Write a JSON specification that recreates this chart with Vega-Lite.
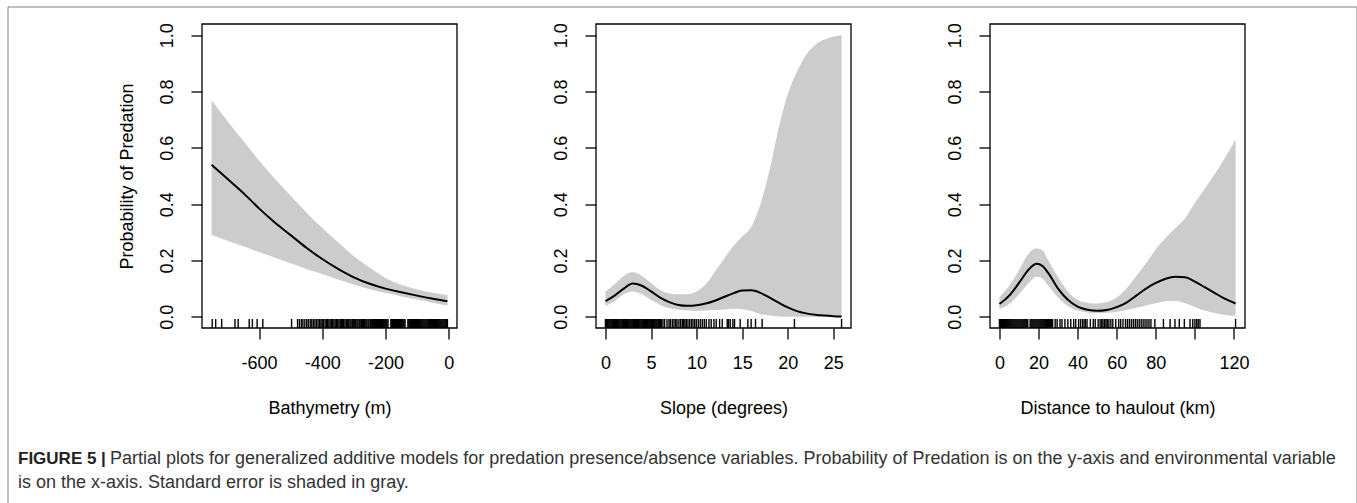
{
  "$schema": "https://vega.github.io/schema/vega-lite/v6.json",
  "autosize": {"type": "none"},
  "padding": {"left": 7.5, "top": 6.5, "right": 0, "bottom": 0},
  "background": "white",
  "width": 1349,
  "height": 497,
  "view": {"stroke": "#808080", "strokeWidth": 1},
  "config": {
    "axis": {"domain": false, "grid": false, "ticks": true, "tickSize": 11, "tickColor": "black", "tickWidth": 1.3, "labelFont": "Liberation Sans", "labelFontSize": 18, "labelColor": "black", "titleFont": "Liberation Sans", "titleFontSize": 18, "titleColor": "black", "titleFontWeight": "normal"},
    "axisX": {"labelPadding": 29, "labelBaseline": "alphabetic", "labelAlign": "center", "titleBaseline": "alphabetic", "titleY": 85, "offset": -175.5},
    "axisY": {"labelAngle": -90, "labelAlign": "center", "labelBaseline": "alphabetic", "labelPadding": 18.5, "titleAngle": -90, "titleBaseline": "alphabetic", "titleAlign": "center", "titleX": -70, "titleY": 169.5}
  },
  "datasets": {
    "caption": [
      {"line": 1, "part": "lead", "text": "FIGURE 5 |"},
      {"line": 1, "part": "rest", "text": "Partial plots for generalized additive models for predation presence/absence variables. Probability of Predation is on the y-axis and environmental variable"},
      {"line": 2, "part": "rest2", "text": "is on the x-axis. Standard error is shaded in gray."}
    ],
    "bathy": [
      {"x": -750, "fit": 0.54, "lo": 0.29, "hi": 0.77},
      {"x": -700, "fit": 0.49, "lo": 0.27, "hi": 0.695},
      {"x": -650, "fit": 0.44, "lo": 0.25, "hi": 0.625},
      {"x": -600, "fit": 0.385, "lo": 0.23, "hi": 0.555},
      {"x": -550, "fit": 0.335, "lo": 0.21, "hi": 0.49},
      {"x": -500, "fit": 0.29, "lo": 0.19, "hi": 0.43},
      {"x": -450, "fit": 0.245, "lo": 0.17, "hi": 0.37},
      {"x": -400, "fit": 0.205, "lo": 0.152, "hi": 0.315},
      {"x": -350, "fit": 0.17, "lo": 0.132, "hi": 0.265},
      {"x": -300, "fit": 0.14, "lo": 0.114, "hi": 0.215},
      {"x": -250, "fit": 0.117, "lo": 0.098, "hi": 0.175},
      {"x": -200, "fit": 0.1, "lo": 0.085, "hi": 0.138},
      {"x": -150, "fit": 0.087, "lo": 0.072, "hi": 0.114},
      {"x": -100, "fit": 0.075, "lo": 0.061, "hi": 0.097},
      {"x": -50, "fit": 0.064, "lo": 0.05, "hi": 0.085},
      {"x": -4, "fit": 0.055, "lo": 0.04, "hi": 0.076}
    ],
    "slope": [
      {"x": 0, "fit": 0.055, "lo": 0.038, "hi": 0.09},
      {"x": 1, "fit": 0.075, "lo": 0.055, "hi": 0.115},
      {"x": 2, "fit": 0.1, "lo": 0.08, "hi": 0.145},
      {"x": 3, "fit": 0.118, "lo": 0.09, "hi": 0.158},
      {"x": 4, "fit": 0.11, "lo": 0.08, "hi": 0.145},
      {"x": 5, "fit": 0.09, "lo": 0.06, "hi": 0.12},
      {"x": 6, "fit": 0.068, "lo": 0.042, "hi": 0.095},
      {"x": 7, "fit": 0.052, "lo": 0.03, "hi": 0.083},
      {"x": 8, "fit": 0.042, "lo": 0.025, "hi": 0.08},
      {"x": 9, "fit": 0.039, "lo": 0.022, "hi": 0.08},
      {"x": 10, "fit": 0.041, "lo": 0.021, "hi": 0.09},
      {"x": 11, "fit": 0.047, "lo": 0.022, "hi": 0.115},
      {"x": 12, "fit": 0.057, "lo": 0.024, "hi": 0.16},
      {"x": 13, "fit": 0.07, "lo": 0.026, "hi": 0.205},
      {"x": 14, "fit": 0.083, "lo": 0.028, "hi": 0.25},
      {"x": 15, "fit": 0.093, "lo": 0.027, "hi": 0.285},
      {"x": 16, "fit": 0.094, "lo": 0.02, "hi": 0.32},
      {"x": 17, "fit": 0.085, "lo": 0.01, "hi": 0.4},
      {"x": 18, "fit": 0.068, "lo": 0.004, "hi": 0.52},
      {"x": 19, "fit": 0.05, "lo": 0.001, "hi": 0.67},
      {"x": 20, "fit": 0.033, "lo": 0, "hi": 0.79},
      {"x": 21, "fit": 0.02, "lo": 0, "hi": 0.87},
      {"x": 22, "fit": 0.012, "lo": 0, "hi": 0.93},
      {"x": 23, "fit": 0.007, "lo": 0, "hi": 0.965},
      {"x": 24, "fit": 0.004, "lo": 0, "hi": 0.985},
      {"x": 25, "fit": 0.002, "lo": 0, "hi": 0.995},
      {"x": 25.9, "fit": 0.001, "lo": 0, "hi": 1.0}
    ],
    "dist": [
      {"x": 0, "fit": 0.045, "lo": 0.027, "hi": 0.07},
      {"x": 5, "fit": 0.075, "lo": 0.045, "hi": 0.11},
      {"x": 10, "fit": 0.12, "lo": 0.08, "hi": 0.165},
      {"x": 15, "fit": 0.168, "lo": 0.12, "hi": 0.225},
      {"x": 19, "fit": 0.188, "lo": 0.142, "hi": 0.242},
      {"x": 22, "fit": 0.18, "lo": 0.135, "hi": 0.235},
      {"x": 25, "fit": 0.155, "lo": 0.11, "hi": 0.2},
      {"x": 30, "fit": 0.1, "lo": 0.068, "hi": 0.14},
      {"x": 35, "fit": 0.06, "lo": 0.038, "hi": 0.09},
      {"x": 40, "fit": 0.036, "lo": 0.022, "hi": 0.06},
      {"x": 45, "fit": 0.025, "lo": 0.015, "hi": 0.05},
      {"x": 50, "fit": 0.021, "lo": 0.013, "hi": 0.047},
      {"x": 55, "fit": 0.024, "lo": 0.014, "hi": 0.052},
      {"x": 60, "fit": 0.034, "lo": 0.018, "hi": 0.068},
      {"x": 65, "fit": 0.05, "lo": 0.024, "hi": 0.1},
      {"x": 70, "fit": 0.075, "lo": 0.032, "hi": 0.145},
      {"x": 75, "fit": 0.1, "lo": 0.04, "hi": 0.19},
      {"x": 80, "fit": 0.12, "lo": 0.048, "hi": 0.24},
      {"x": 85, "fit": 0.135, "lo": 0.055, "hi": 0.28},
      {"x": 90, "fit": 0.142, "lo": 0.057, "hi": 0.315},
      {"x": 95, "fit": 0.14, "lo": 0.048, "hi": 0.35},
      {"x": 100, "fit": 0.125, "lo": 0.035, "hi": 0.405},
      {"x": 105, "fit": 0.105, "lo": 0.022, "hi": 0.455},
      {"x": 110, "fit": 0.085, "lo": 0.013, "hi": 0.505},
      {"x": 115, "fit": 0.065, "lo": 0.007, "hi": 0.56},
      {"x": 120.8, "fit": 0.047, "lo": 0.003, "hi": 0.63}
    ],
    "rugBathy": [-748, -737, -718, -676, -666, -631, -621, -606, -588, -497,
      -478, -472, -466, -461, -455, -449, -444, -438, -433, -428, -423, -418, -413, -408, -404, -400, -396, -391, -387, -383, -379, -375, -371, -367, -363, -359, -355, -351, -347, -343, -339, -336, -332, -328, -324, -320, -316, -312, -309, -305, -301, -297, -294, -290, -287, -283, -280, -276, -273, -269, -266, -262, -259, -255, -252, -248, -245, -241, -238, -235, -231, -228, -225, -222,
      -219, -216, -213, -210, -207, -204, -201, -198, -195, -192, -183, -180, -177, -174, -171, -168, -165, -162, -159, -156, -153, -150, -147, -144, -141, -138, -129, -126, -123, -120, -117, -114, -111, -108, -105, -102, -99, -96, -93, -90, -87, -84, -81, -78, -75, -72, -69, -66, -63, -60, -57, -54, -51, -48, -45, -42, -39, -36, -33, -30, -27, -24, -21, -18, -15, -12, -9, -6, -4],
    "rugSlope": [0, 0.1, 0.2, 0.3, 0.4, 0.5, 0.6, 0.7, 0.8, 0.9, 1.0, 1.1, 1.2, 1.3, 1.4, 1.5, 1.6, 1.7, 1.8, 1.9, 2.0, 2.1, 2.2, 2.3, 2.4, 2.5, 2.6, 2.7, 2.8, 2.9, 3.0, 3.1, 3.2, 3.3, 3.4, 3.5, 3.6, 3.7, 3.8, 3.9, 4.0, 4.1, 4.2, 4.3, 4.4, 4.5, 4.6, 4.7, 4.8,
      4.95, 5.05, 5.15, 5.25, 5.35, 5.45, 5.55, 5.65, 5.75, 5.85, 5.95, 6.05, 6.13,
      6.31, 6.49, 6.75, 6.97, 7.12, 7.33, 7.52, 7.7, 7.85, 8.06, 8.25, 8.43, 8.58, 8.72, 8.87, 9.05, 9.23, 9.42, 9.6, 9.78, 9.96, 10.18, 10.4, 10.62, 10.84, 11.06, 11.35, 11.6, 11.9, 12.15, 12.52, 12.81, 13.36, 13.5, 13.69, 13.98, 14.16, 14.78, 15.62, 15.98, 16.46, 17.19, 20.73, 25.9],
    "rugDist": [0, 0.5, 1, 1.5, 2, 2.5, 3, 3.5, 4, 4.5, 5, 5.5, 6, 6.5, 7, 7.5, 8, 8.5, 9, 9.5, 10, 10.5, 11, 11.5, 12, 12.5, 13, 13.5, 14, 14.5,
      15.7, 16.2, 16.7, 17.2, 17.7, 18.2, 18.7, 19.2, 19.7, 20.2, 20.7, 21.2, 21.7, 22.2, 22.7, 23.2, 23.7, 24.2, 24.7, 25.2, 25.7, 26.2, 26.7, 27.2,
      28.5, 29.5, 31, 32, 33.5, 35, 36.5, 38, 39, 40.5, 41.5, 42.5, 43.3, 44, 44.8, 46.5, 48, 49, 50.5, 51.5, 52.3, 53, 53.8, 54.5, 55.2, 56, 57, 58, 59.5, 61, 62, 63.2, 64.5, 65.5, 66.5, 67.5, 68.5, 69.5, 70.5, 71.5, 72.5, 73.5, 74.5, 75.5, 76.5, 77.5, 79.5,
      83.9, 87.3, 89.8, 92.0, 94.6, 97.5, 98.9, 100.0, 100.9, 101.7, 102.6, 120.8]
  },
  "layer": [
    {
      "layer": [
        {
          "data": {"name": "bathy"},
          "mark": {"type": "area", "color": "#cccccc", "interpolate": "monotone"},
          "encoding": {
            "x": {"field": "x", "type": "quantitative", "scale": {"domain": [-780.3, 26.3], "range": [194.5, 449.5], "nice": false, "zero": false}, "axis": {"orient": "bottom", "title": "Bathymetry (m)", "values": [-600, -400, -200, 0], "labelExpr": "toString(datum.value)"}},
            "y": {"field": "lo", "type": "quantitative", "scale": {"domain": [-0.04, 1.04], "range": [321.5, 17.5], "nice": false, "zero": false}, "axis": {"orient": "left", "offset": -194.5, "title": "Probability of Predation", "values": [0, 0.2, 0.4, 0.6, 0.8, 1.0], "format": ".1f"}},
            "y2": {"field": "hi"}
          }
        },
        {
          "data": {"name": "bathy"},
          "mark": {"type": "line", "color": "black", "strokeWidth": 2, "interpolate": "monotone"},
          "encoding": {
            "x": {"field": "x", "type": "quantitative"},
            "y": {"field": "fit", "type": "quantitative"}
          }
        },
        {
          "data": {"name": "rugBathy"},
          "mark": {"type": "rule", "color": "black", "strokeWidth": 1.4},
          "encoding": {
            "x": {"field": "data", "type": "quantitative"},
            "y": {"datum": -0.04},
            "y2": {"datum": -0.008}
          }
        },
        {
          "data": {"values": [{}]},
          "mark": {"type": "rect", "filled": false, "stroke": "black", "strokeWidth": 1.3},
          "encoding": {
            "x": {"datum": -780.3},
            "x2": {"datum": 26.3},
            "y": {"datum": -0.04},
            "y2": {"datum": 1.04}
          }
        }
      ]
    },
    {
      "layer": [
        {
          "data": {"name": "slope"},
          "mark": {"type": "area", "color": "#cccccc", "interpolate": "monotone"},
          "encoding": {
            "x": {"field": "x", "type": "quantitative", "scale": {"domain": [-1.036, 26.936], "range": [588.5, 843.5], "nice": false, "zero": false}, "axis": {"orient": "bottom", "title": "Slope (degrees)", "values": [0, 5, 10, 15, 20, 25], "labelExpr": "toString(datum.value)"}},
            "y": {"field": "lo", "type": "quantitative", "scale": {"domain": [-0.04, 1.04], "range": [321.5, 17.5], "nice": false, "zero": false}, "axis": {"orient": "left", "offset": -588.5, "title": null, "values": [0, 0.2, 0.4, 0.6, 0.8, 1.0], "format": ".1f"}},
            "y2": {"field": "hi"}
          }
        },
        {
          "data": {"name": "slope"},
          "mark": {"type": "line", "color": "black", "strokeWidth": 2, "interpolate": "monotone"},
          "encoding": {
            "x": {"field": "x", "type": "quantitative"},
            "y": {"field": "fit", "type": "quantitative"}
          }
        },
        {
          "data": {"name": "rugSlope"},
          "mark": {"type": "rule", "color": "black", "strokeWidth": 1.4},
          "encoding": {
            "x": {"field": "data", "type": "quantitative"},
            "y": {"datum": -0.04},
            "y2": {"datum": -0.008}
          }
        },
        {
          "data": {"values": [{}]},
          "mark": {"type": "rect", "filled": false, "stroke": "black", "strokeWidth": 1.3},
          "encoding": {
            "x": {"datum": -1.036},
            "x2": {"datum": 26.936},
            "y": {"datum": -0.04},
            "y2": {"datum": 1.04}
          }
        }
      ]
    },
    {
      "layer": [
        {
          "data": {"name": "dist"},
          "mark": {"type": "area", "color": "#cccccc", "interpolate": "monotone"},
          "encoding": {
            "x": {"field": "x", "type": "quantitative", "scale": {"domain": [-4.83, 125.63], "range": [982.5, 1237.5], "nice": false, "zero": false}, "axis": {"orient": "bottom", "title": "Distance to haulout (km)", "values": [0, 20, 40, 60, 80, 100, 120], "labelExpr": "datum.value == 100 ? '' : toString(datum.value)"}},
            "y": {"field": "lo", "type": "quantitative", "scale": {"domain": [-0.04, 1.04], "range": [321.5, 17.5], "nice": false, "zero": false}, "axis": {"orient": "left", "offset": -982.5, "title": null, "values": [0, 0.2, 0.4, 0.6, 0.8, 1.0], "format": ".1f"}},
            "y2": {"field": "hi"}
          }
        },
        {
          "data": {"name": "dist"},
          "mark": {"type": "line", "color": "black", "strokeWidth": 2, "interpolate": "monotone"},
          "encoding": {
            "x": {"field": "x", "type": "quantitative"},
            "y": {"field": "fit", "type": "quantitative"}
          }
        },
        {
          "data": {"name": "rugDist"},
          "mark": {"type": "rule", "color": "black", "strokeWidth": 1.4},
          "encoding": {
            "x": {"field": "data", "type": "quantitative"},
            "y": {"datum": -0.04},
            "y2": {"datum": -0.008}
          }
        },
        {
          "data": {"values": [{}]},
          "mark": {"type": "rect", "filled": false, "stroke": "black", "strokeWidth": 1.3},
          "encoding": {
            "x": {"datum": -4.83},
            "x2": {"datum": 125.63},
            "y": {"datum": -0.04},
            "y2": {"datum": 1.04}
          }
        }
      ]
    },
    {
      "data": {"name": "caption"},
      "layer": [
        {
          "transform": [{"filter": "datum.part == 'lead'"}],
          "mark": {"type": "text", "align": "left", "baseline": "alphabetic", "font": "Liberation Sans", "fontSize": 17, "fontWeight": "bold", "color": "#222222", "x": 10.5, "y": 457.5},
          "encoding": {"text": {"field": "text"}}
        },
        {
          "transform": [{"filter": "datum.part == 'rest'"}],
          "mark": {"type": "text", "align": "left", "baseline": "alphabetic", "font": "Liberation Sans", "fontSize": 18, "color": "#333333", "x": 102.5, "y": 457.5},
          "encoding": {"text": {"field": "text"}}
        },
        {
          "transform": [{"filter": "datum.part == 'rest2'"}],
          "mark": {"type": "text", "align": "left", "baseline": "alphabetic", "font": "Liberation Sans", "fontSize": 18, "color": "#333333", "x": 10.5, "y": 481.5},
          "encoding": {"text": {"field": "text"}}
        }
      ]
    }
  ],
  "resolve": {"scale": {"x": "independent", "y": "independent"}}
}
